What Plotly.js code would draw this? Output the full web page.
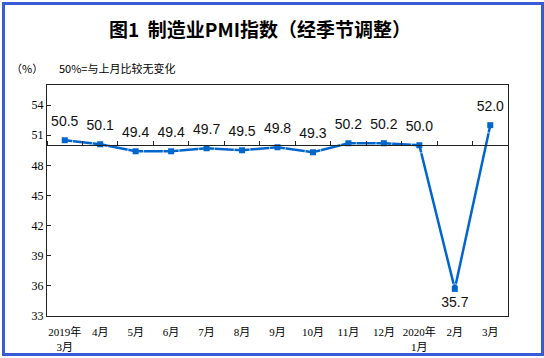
<!DOCTYPE html>
<html><head><meta charset="utf-8">
<script src="https://cdn.plot.ly/plotly-3.0.1.min.js"></script>
<style>html,body{margin:0;padding:0;background:#f0f0f0;}#c{width:544px;height:358px;}</style>
</head><body><div id="c"></div>
<script>
const categories = ["2019年<br>3月","4月","5月","6月","7月","8月","9月","10月","11月","12月","2020年<br>1月","2月","3月"];
const pmi = [50.5, 50.1, 49.4, 49.4, 49.7, 49.5, 49.8, 49.3, 50.2, 50.2, 50.0, 35.7, 52.0];
const labelPos = ["top center","top center","top center","top center","top center","top center","top center","top center","top center","top center","top center","bottom center","top center"];
const yTicks = [33, 36, 39, 42, 45, 48, 51, 54];

const W = 544, H = 358, L = 47, R = 36, T = 85, B = 42;
const pw = W - L - R, ph = H - T - B;
const px = v => (v - L) / pw;
const py = v => (H - B - v) / ph;
const blue = "#0066cc";

const traces = [
  {
    x: categories, y: pmi, type: "scatter", mode: "lines+markers",
    line: {color: blue, width: 2.5},
    marker: {symbol: "square", size: 6, color: blue},
    hoverinfo: "skip", cliponaxis: false, showlegend: false
  },
  {
    x: categories, y: pmi, type: "scatter", mode: "markers+text",
    marker: {size: labelPos.map(p => p === "top center" ? 16 : 10), color: "rgba(0,0,0,0)"},
    text: pmi.map(v => v.toFixed(1)), textposition: labelPos,
    textfont: {family: "Liberation Sans, Arial, sans-serif", size: 14, color: "#111"},
    hoverinfo: "skip", cliponaxis: false, showlegend: false
  },
  {
    x: categories, y: pmi, type: "scatter", mode: "lines", xaxis: "x2",
    line: {width: 0, color: "rgba(0,0,0,0)"}, hoverinfo: "skip", showlegend: false
  }
];

const layout = {
  width: W, height: H,
  margin: {l: L, r: R, t: T, b: B},
  paper_bgcolor: "#ffffff", plot_bgcolor: "#ffffff",
  title: {text: "图1  制造业PMI指数（经季节调整）", x: 260 / W, xanchor: "center", y: 1 - 30 / H, yanchor: "middle",
          font: {family: "Noto Sans CJK SC, sans-serif", size: 19, color: "#000", weight: "bold"}},
  xaxis: {
    type: "category", range: [-0.5, 12.5], showgrid: false, zeroline: false,
    showline: true, mirror: true, linecolor: "#222", linewidth: 1, ticks: "",
    tickfont: {family: "Liberation Serif, Noto Sans CJK SC, serif", size: 11, color: "#000"},
    tickangle: 0, ticklabelstandoff: 6, fixedrange: true
  },
  xaxis2: {
    type: "category", overlaying: "x", anchor: "free", position: (50 - 33) / (56 - 33), side: "top",
    range: [-0.5, 12.5], showgrid: false, zeroline: false, showline: true, linecolor: "#222", linewidth: 1,
    ticks: "outside", ticklen: 4, tickcolor: "#222", tickson: "boundaries", showticklabels: false
  },
  yaxis: {
    range: [33, 56], tickvals: yTicks, ticktext: yTicks.map(String), showgrid: false, zeroline: false,
    showline: true, mirror: true, linecolor: "#222", linewidth: 1,
    ticks: "inside", ticklen: 4, tickcolor: "#222",
    tickfont: {family: "Liberation Serif, serif", size: 12, color: "#000"}, fixedrange: true
  },
  annotations: [
    {text: "（%）", xref: "paper", yref: "paper", x: px(27), y: py(68), xanchor: "center", yanchor: "middle", showarrow: false,
     font: {family: "Noto Sans CJK SC, sans-serif", size: 11, color: "#000"}},
    {text: "50%=与上月比较无变化", xref: "paper", yref: "paper", x: px(57), y: py(68), xanchor: "left", yanchor: "middle", showarrow: false,
     font: {family: "Noto Sans CJK SC, sans-serif", size: 11, color: "#000"}}
  ],
  shapes: [
    {type: "rect", xref: "paper", yref: "paper", x0: px(3.5), x1: px(542.5), y0: py(354.5), y1: py(3.5),
     line: {color: "#3a5bd6", width: 3}, fillcolor: "rgba(0,0,0,0)", layer: "below"}
  ]
};

Plotly.newPlot("c", traces, layout, {displayModeBar: false, staticPlot: true});
</script></body></html>
